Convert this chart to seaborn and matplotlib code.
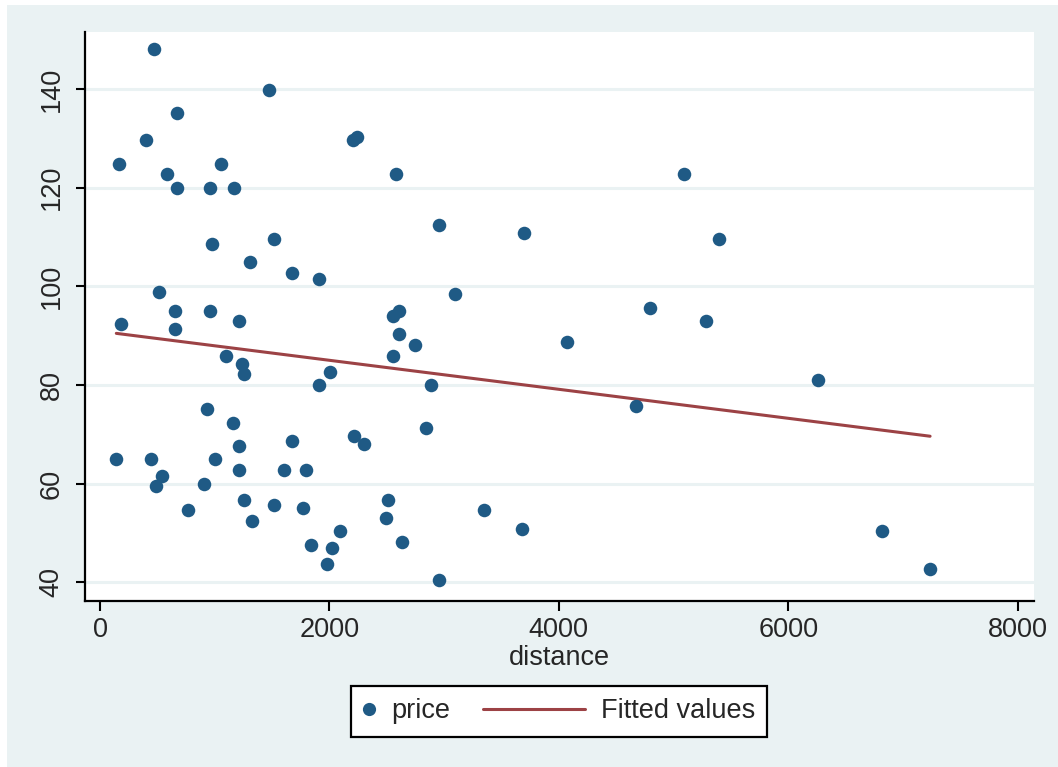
import numpy as np
import pandas as pd
import matplotlib
matplotlib.use("Agg")
import matplotlib.pyplot as plt
import seaborn as sns
from matplotlib.lines import Line2D
from matplotlib.legend_handler import HandlerBase
from matplotlib.patches import Rectangle

# ---- data ----
distance = [471, 1470, 674, 401, 2208, 2237, 168, 584, 1052, 674, 956, 1165, 2583,
            979, 1517, 1305, 1676, 1909, 514, 657, 956, 1214, 2557, 2610, 186, 657,
            1095, 1234, 1258, 2610, 2746, 2557, 2002, 1909, 933, 1163, 1214, 1676,
            2211, 2304, 142, 445, 1002, 538, 491, 910, 1214, 1607, 1793, 770, 1258,
            1328, 1514, 1770, 1840, 2025, 2095, 1979, 2514, 2490, 2629, 4792, 5280,
            4071, 2885, 2838, 4675, 3350, 3676, 2955, 5094, 2955, 3699, 5396, 3095,
            6256, 6813, 7236]
price = [148.1, 139.9, 135.1, 129.7, 129.7, 130.3, 124.9, 122.7, 124.9, 120.0, 120.0,
         120.0, 122.7, 108.6, 109.7, 104.9, 102.7, 101.6, 98.9, 95.1, 95.1, 93.0, 94.0,
         95.1, 92.4, 91.3, 85.9, 84.3, 82.2, 90.3, 88.1, 85.9, 82.7, 80.0, 75.1, 72.4,
         67.6, 68.6, 69.7, 68.1, 64.9, 64.9, 64.9, 61.6, 59.5, 60.0, 62.7, 62.7, 62.7,
         54.6, 56.7, 52.4, 55.7, 55.1, 47.6, 47.0, 50.3, 43.8, 56.7, 53.0, 48.1, 95.7,
         93.0, 88.7, 80.0, 71.3, 75.7, 54.6, 50.8, 40.5, 122.7, 112.4, 110.8, 109.7,
         98.4, 81.0, 50.3, 42.7]
x_ticks = [0, 2000, 4000, 6000, 8000]
y_ticks = [40, 60, 80, 100, 120, 140]
x_label = "distance"
series_labels = ["price", "Fitted values"]

df = pd.DataFrame({"distance": distance, "price": price})

# ---- style ----
sns.set_style("ticks")
plt.rcParams["font.family"] = ["Liberation Sans", "DejaVu Sans"]

BG = "#eaf2f3"
DOT = "#1f5a85"
FIT = "#9c4245"
FS = 19.5

fig = plt.figure(figsize=(10.58, 7.67), dpi=100)
fig.patch.set_facecolor("white")
fig.patches.append(Rectangle((7 / 1058, 0), 1, 1 - 5 / 767, transform=fig.transFigure,
                             facecolor=BG, edgecolor="none", zorder=-10))

ax = fig.add_axes([85 / 1058, 1 - 601 / 767, (1034 - 85) / 1058, (601 - 32) / 767])
ax.set_facecolor("white")

sns.regplot(data=df, x="distance", y="price", scatter=False, ci=None, truncate=True,
            line_kws=dict(color=FIT, lw=2.2, zorder=3), ax=ax)
sns.scatterplot(data=df, x="distance", y="price", s=95, color=DOT, linewidth=0,
                zorder=4, ax=ax)

ax.set_xlim(-131, 8142)
ax.set_ylim(36.2, 151.6)
ax.set_xticks(x_ticks)
ax.set_yticks(y_ticks)
ax.yaxis.grid(True, color=BG, lw=2.2, zorder=0)
ax.xaxis.grid(False)
ax.set_axisbelow(True)

for s in ["top", "right"]:
    ax.spines[s].set_visible(False)
for s in ["left", "bottom"]:
    ax.spines[s].set_linewidth(1.6)
    ax.spines[s].set_color("black")

ax.tick_params(axis="x", length=7.5, width=1.5, color="black", labelsize=FS, pad=4)
ax.tick_params(axis="y", length=6.5, width=1.5, color="black", labelsize=FS, pad=8)
for lab in ax.get_yticklabels():
    lab.set_rotation(90)
    lab.set_va("center")
    lab.set_ha("right")

ax.set_xlabel(x_label, fontsize=FS, labelpad=1.5)
ax.set_ylabel("")


# ---- legend ----
class HandlerLongLine(HandlerBase):
    def __init__(self, extra, **kw):
        super().__init__(**kw)
        self.extra = extra

    def create_artists(self, legend, orig_handle, xdescent, ydescent, width, height,
                       fontsize, trans):
        y = height / 2 - ydescent
        ln = Line2D([-xdescent - self.extra, width - xdescent], [y, y],
                    color=orig_handle.get_color(), lw=orig_handle.get_linewidth())
        ln.set_transform(trans)
        return [ln]


h_dot = Line2D([], [], marker="o", linestyle="none", markersize=9.5,
               markerfacecolor=DOT, markeredgecolor=DOT, markeredgewidth=0)
h_fit = Line2D([], [], color=FIT, lw=2.2)
leg = fig.legend([h_dot, h_fit], series_labels, ncol=2, loc="center",
                 bbox_to_anchor=(559 / 1058, 1 - 711.5 / 767), bbox_transform=fig.transFigure,
                 fontsize=FS, handlelength=0.47, handletextpad=0.58, columnspacing=4.5,
                 borderpad=0.45, frameon=True, fancybox=False, framealpha=1,
                 handler_map={h_fit: HandlerLongLine(extra=64)})
leg.get_frame().set_edgecolor("black")
leg.get_frame().set_linewidth(1.6)
leg.get_frame().set_facecolor("white")

fig.savefig("out.png", dpi=100, facecolor=fig.get_facecolor())
